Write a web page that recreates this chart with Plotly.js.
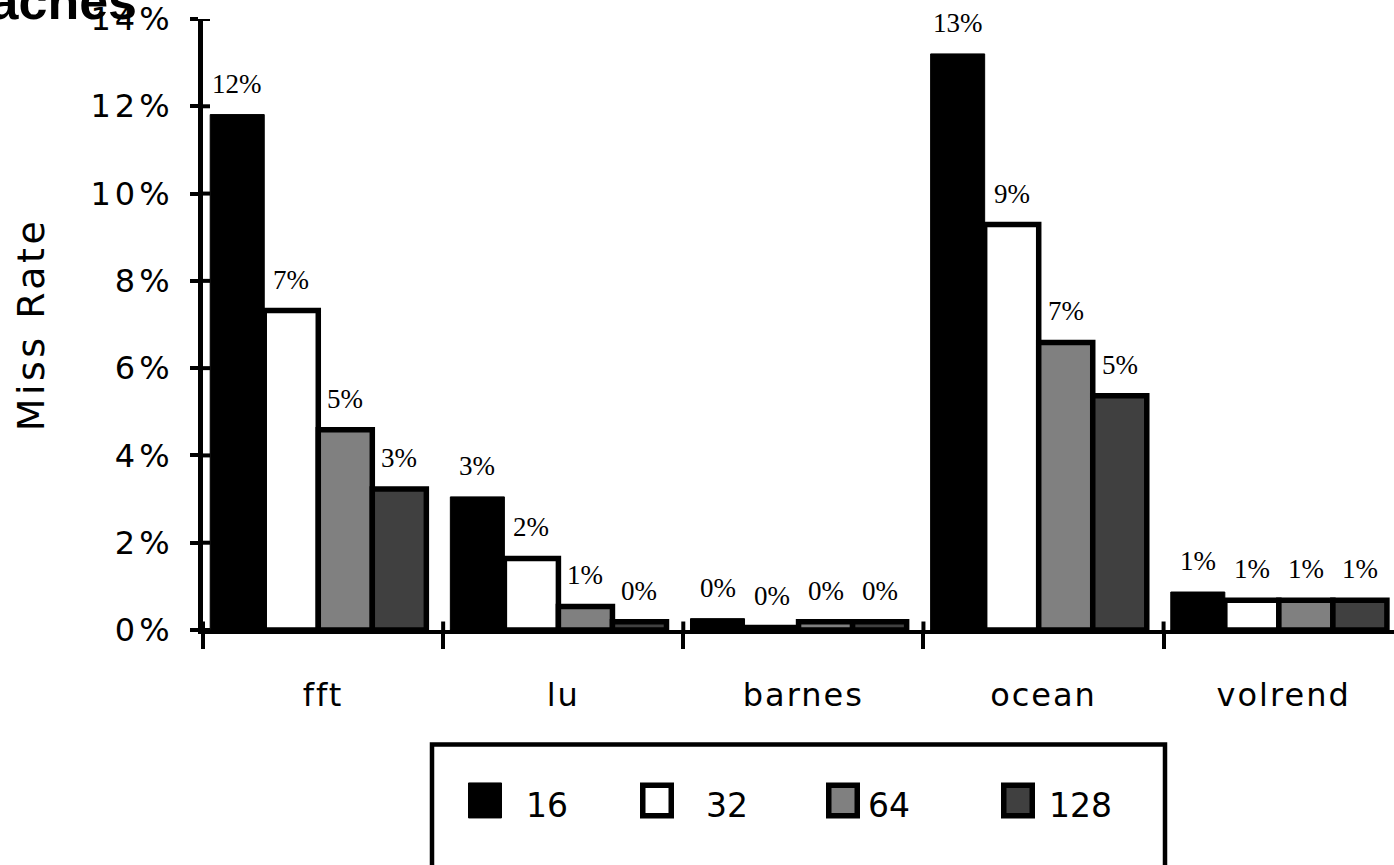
<!DOCTYPE html>
<html>
<head>
<meta charset="utf-8">
<script src="https://cdn.plot.ly/plotly-3.0.1.min.js"></script>
<style>
  html, body { margin: 0; padding: 0; background: #ffffff; }
  #chart { width: 1394px; height: 865px; }
  .ytick text { letter-spacing: 4px; }
  .xtick text { letter-spacing: 2px; }
  .g-ytitle text { letter-spacing: 3.5px; }
  .annotation-text.legend-label { letter-spacing: 5px; }
</style>
</head>
<body>
<div id="chart"></div>
<script>
// Miss rate per benchmark for each cache block size (bytes)
const benchmarks = ['fft', 'lu', 'barnes', 'ocean', 'volrend'];
const blockSizes = ['16', '32', '64', '128'];
const missRate16  = [0.1181, 0.0305, 0.0026, 0.1320, 0.0087];
const missRate32  = [0.0732, 0.0164, 0.0006, 0.0929, 0.0068];
const missRate64  = [0.0459, 0.0054, 0.0019, 0.0659, 0.0068];
const missRate128 = [0.0323, 0.0019, 0.0019, 0.0537, 0.0068];
const yTickVals = [0, 0.02, 0.04, 0.06, 0.08, 0.10, 0.12, 0.14];

const seriesValues = [missRate16, missRate32, missRate64, missRate128];
const fills = ['#000000', '#ffffff', '#808080', '#404040'];
const edgeWidths = [1, 5.5, 5.5, 5.5];

// plot-area geometry in pixels
const W = 1394, H = 865;
const M = { l: 203, r: 0, t: 19.3, b: 234.5 };
const PW = W - M.l - M.r, PH = H - M.t - M.b;
const px2x = px => (px - M.l) / PW;
const py2y = py => (H - M.b - py) / PH;

// bars of a group fill 90% of each category, slightly left of centre
const X_MAX = 4.4595;
const catPx = PW / (X_MAX + 0.5);
const barWidth = 0.9 / blockSizes.length;
const groupStart = -0.47;

const traces = blockSizes.map((bs, i) => ({
  type: 'bar',
  name: bs,
  x: benchmarks,
  y: seriesValues[i],
  width: barWidth,
  offset: groupStart + i * barWidth,
  marker: { color: fills[i], line: { color: '#000000', width: edgeWidths[i] } },
  showlegend: false,
  hoverinfo: 'x+y+name'
}));

// value labels above each bar
const annotations = [];
blockSizes.forEach((bs, i) => {
  seriesValues[i].forEach((v, j) => {
    annotations.push({
      x: benchmarks[j], y: v, xref: 'x', yref: 'y',
      xshift: (groupStart + (i + 0.5) * barWidth) * catPx,
      yshift: 14,
      yanchor: 'bottom', xanchor: 'center',
      text: Math.round(v * 100) + '%',
      showarrow: false,
      font: { family: 'Liberation Serif, Times New Roman, serif', size: 27, color: '#000000' }
    });
  });
});

// legend: swatches and labels inside a framed box
const shapes = [];
const legendSwatchCx = [485, 657, 843, 1018];
const legendTextX = [524, 704, 866, 1047];
shapes.push({
  type: 'rect', xref: 'paper', yref: 'paper',
  x0: px2x(432), x1: px2x(1165), y0: py2y(890), y1: py2y(745),
  line: { color: '#000000', width: 4.5 }, fillcolor: 'rgba(0,0,0,0)'
});
blockSizes.forEach((bs, i) => {
  const lw = edgeWidths[i];
  shapes.push({
    type: 'rect', xref: 'paper', yref: 'paper',
    x0: px2x(legendSwatchCx[i] - 17 + lw / 2), x1: px2x(legendSwatchCx[i] + 17 - lw / 2),
    y0: py2y(819 - lw / 2), y1: py2y(783 + lw / 2),
    line: { color: '#000000', width: lw }, fillcolor: fills[i]
  });
  annotations.push({
    xref: 'paper', yref: 'paper', x: px2x(legendTextX[i]), y: py2y(806),
    xanchor: 'left', yanchor: 'middle', text: bs, showarrow: false,
    font: { family: 'DejaVu Sans, Verdana, sans-serif', size: 33, color: '#000000' }
  });
});

// upper halves of the crossing tick marks
yTickVals.forEach(v => {
  shapes.push({
    type: 'line', xref: 'paper', yref: 'y', x0: 0, x1: px2x(210), y0: v, y1: v,
    line: { color: '#000000', width: 4 }
  });
});
for (let k = 0; k < benchmarks.length; k++) {
  shapes.push({
    type: 'line', xref: 'x', yref: 'paper', x0: k - 0.5, x1: k - 0.5, y0: 0, y1: py2y(622),
    line: { color: '#000000', width: 4 }
  });
}

const layout = {
  width: W, height: H,
  margin: M,
  paper_bgcolor: '#ffffff', plot_bgcolor: '#ffffff',
  barmode: 'group',
  showlegend: false,
  title: {
    text: 'Caches',
    xref: 'container', yref: 'container',
    x: 137 / W, xanchor: 'right',
    y: 1 - 19 / H, yanchor: 'bottom',
    font: { family: 'Liberation Sans, Arial, sans-serif', size: 52, weight: 'bold', color: '#000000' }
  },
  xaxis: {
    type: 'category',
    range: [-0.5, X_MAX],
    tickson: 'boundaries',
    ticks: 'outside', ticklen: 15, tickwidth: 4, tickcolor: '#000000',
    showline: true, linewidth: 4, linecolor: '#000000',
    showgrid: false, zeroline: false,
    ticklabelstandoff: 34,
    tickfont: { family: 'DejaVu Sans, Verdana, sans-serif', size: 32, color: '#000000' },
    fixedrange: true
  },
  yaxis: {
    range: [0, 0.14],
    tickvals: yTickVals,
    tickformat: '.0%',
    ticks: 'outside', ticklen: 8, tickwidth: 4, tickcolor: '#000000',
    showline: true, linewidth: 5, linecolor: '#000000',
    showgrid: false, zeroline: false,
    ticklabelstandoff: 10,
    tickfont: { family: 'DejaVu Sans, Verdana, sans-serif', size: 32, color: '#000000' },
    title: { text: 'Miss Rate', standoff: 36, font: { family: 'DejaVu Sans, Verdana, sans-serif', size: 38, color: '#000000' } },
    fixedrange: true
  },
  annotations: annotations,
  shapes: shapes
};

Plotly.newPlot('chart', traces, layout, { displayModeBar: false, staticPlot: true });
</script>
</body>
</html>
